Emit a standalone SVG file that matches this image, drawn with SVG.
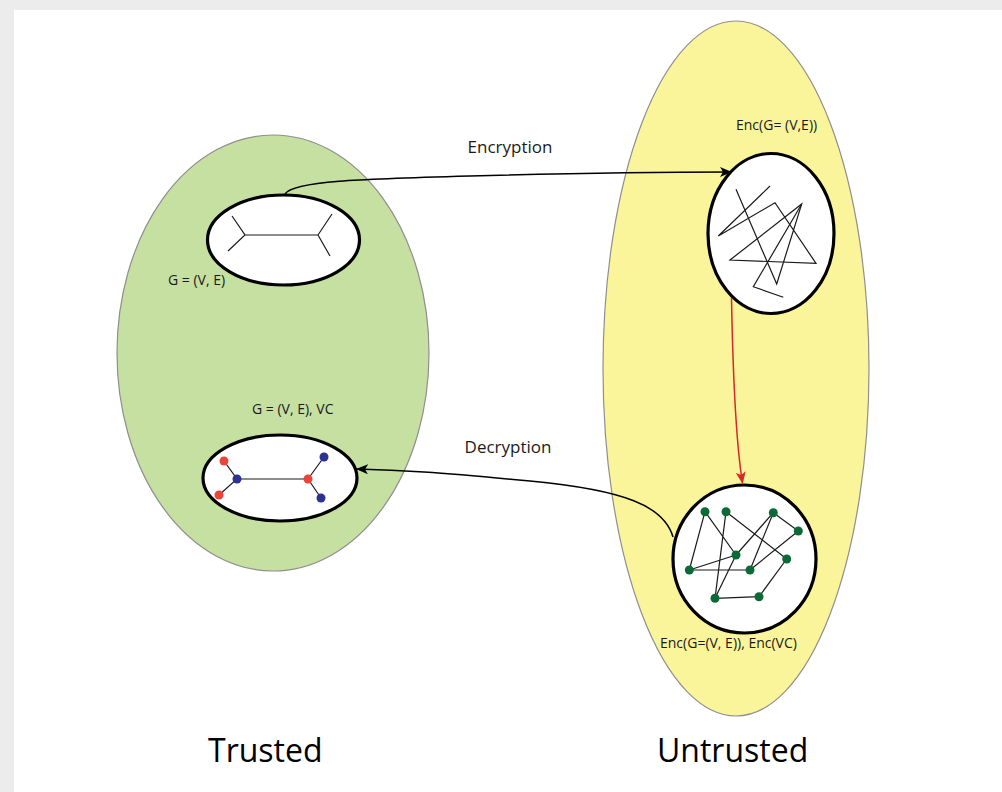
<svg xmlns="http://www.w3.org/2000/svg" width="1002" height="792" viewBox="0 0 1002 792">
  <style>
    .zone { stroke: #8f8f8f; stroke-width: 1.2; }
    .node { fill: #ffffff; stroke: #000000; stroke-width: 3.2; }
    .edge { fill: none; stroke: #1a1a1a; stroke-width: 1.2; }
    .lbl { font-family: "Open Sans", "Noto Sans", sans-serif; fill: #1a1a1a; }
    .small { font-size: 14px; }
    .mid { font-size: 17px; text-anchor: middle; }
    .big { font-size: 32px; fill: #000000; }
    .red { fill: #e8453b; }
    .blue { fill: #2d3192; }
    .grn { fill: #0b6a36; }
    .conn { fill: none; stroke: #000000; stroke-width: 1.5; }
  </style>
  <defs>
    <marker id="arrowK" viewBox="0 0 12 10" refX="11" refY="5" markerWidth="12" markerHeight="10" markerUnits="userSpaceOnUse" orient="auto">
      <path d="M0,0 L12,5 L0,10 L3,5 Z" fill="#000000"/>
    </marker>
    <marker id="arrowR" viewBox="0 0 12 10" refX="11" refY="5" markerWidth="12" markerHeight="10" markerUnits="userSpaceOnUse" orient="auto">
      <path d="M0,0 L12,5 L0,10 L3,5 Z" fill="#d42a2a"/>
    </marker>
  </defs>

  <!-- page frame -->
  <rect x="0" y="0" width="1002" height="792" fill="#ececec"/>
  <rect x="14" y="10" width="988" height="782" fill="#ffffff"/>

  <!-- trust zones -->
  <g id="zone-trusted">
    <ellipse class="zone" cx="273" cy="353" rx="156" ry="218" fill="#c5e0a1"/>
    <text class="lbl big" x="208" y="762">Trusted</text>
  </g>
  <g id="zone-untrusted">
    <ellipse class="zone" cx="736" cy="368.5" rx="133" ry="347.5" fill="#faf59a"/>
    <text class="lbl big" x="657" y="762">Untrusted</text>
  </g>

  <!-- plain graph -->
  <g id="graph-plain">
    <ellipse class="node" cx="283.5" cy="240" rx="76" ry="45"/>
    <path class="edge" d="M232,216 L245,235 L228,251 M245,235 L318,235 L332,214 M318,235 L330,256"/>
    <text class="lbl small" x="168" y="285">G = (V, E)</text>
  </g>

  <!-- graph with vertex cover -->
  <g id="graph-vc">
    <ellipse class="node" cx="280" cy="478" rx="77" ry="43"/>
    <path class="edge" d="M224,461 L237,479 L219,495 M237,479 L308,479 L324,457 M308,479 L321,498"/>
    <circle class="red" cx="224" cy="461" r="4.5"/>
    <circle class="blue" cx="237" cy="479" r="4.5"/>
    <circle class="red" cx="219" cy="495" r="4.5"/>
    <circle class="red" cx="308" cy="479" r="4.5"/>
    <circle class="blue" cx="324" cy="457" r="4.5"/>
    <circle class="blue" cx="321" cy="498" r="4.5"/>
    <text class="lbl small" x="252" y="414">G = (V, E), VC</text>
  </g>

  <!-- encrypted graph -->
  <g id="graph-enc">
    <ellipse class="node" cx="771" cy="233.5" rx="63" ry="80"/>
    <polyline class="edge" points="770,186 718.3,236 775,202.7 816,263.3 730,260 801.7,204 776.7,284 736,189.3"/>
    <polyline class="edge" points="801.7,204 753.3,286.7 783.3,297.3"/>
    <text class="lbl small" x="736" y="130">Enc(G= (V,E))</text>
  </g>

  <!-- encrypted graph with encrypted cover -->
  <g id="graph-enc-vc">
    <ellipse class="node" cx="744.5" cy="559" rx="71.5" ry="74"/>
    <path class="edge" d="M705,511.7 L689.3,570 L750,570 M689.3,570 L736,555 M705,511.7 L736,555 M726,511.7 L715,598.3 M726,511.7 L786.7,559 M773.3,512.7 L750,570 M773.3,512.7 L736,555 M773.3,512.7 L798.3,531 L750,570 M736,555 L715,598.3 M786.7,559 L759,596.7 L715,598.3"/>
    <circle class="grn" cx="705" cy="511.7" r="4.5"/>
    <circle class="grn" cx="726" cy="511.7" r="4.5"/>
    <circle class="grn" cx="773.3" cy="512.7" r="4.5"/>
    <circle class="grn" cx="798.3" cy="531" r="4.5"/>
    <circle class="grn" cx="736" cy="555" r="4.5"/>
    <circle class="grn" cx="786.7" cy="559" r="4.5"/>
    <circle class="grn" cx="689.3" cy="570" r="4.5"/>
    <circle class="grn" cx="750" cy="570" r="4.5"/>
    <circle class="grn" cx="715" cy="598.3" r="4.5"/>
    <circle class="grn" cx="759" cy="596.7" r="4.5"/>
    <text class="lbl small" x="660" y="648">Enc(G=(V, E)), Enc(VC)</text>
  </g>

  <!-- connectors -->
  <g id="connectors">
    <path class="conn" d="M285,194 C293,181 360,179 470,176 S 680,172 731,172" marker-end="url(#arrowK)"/>
    <text class="lbl mid" x="510" y="153">Encryption</text>
    <path d="M731.5,298 C733,380 735.5,440 742.5,483" fill="none" stroke="#d42a2a" stroke-width="1.5" marker-end="url(#arrowR)"/>
    <path class="conn" d="M673,537 C664,506 625,490 530,481 S 400,470 357,469" marker-end="url(#arrowK)"/>
    <text class="lbl mid" x="508" y="453">Decryption</text>
  </g>
</svg>
